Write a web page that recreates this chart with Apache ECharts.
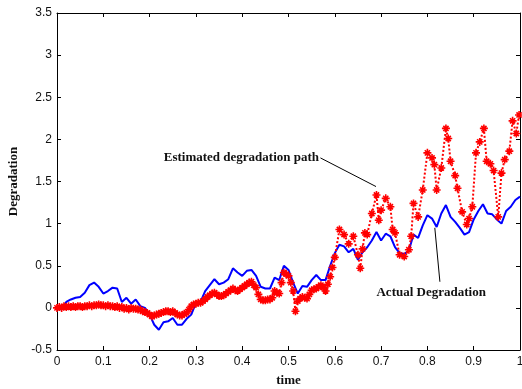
<!DOCTYPE html>
<html>
<head>
<meta charset="utf-8">
<script src="https://cdn.jsdelivr.net/npm/echarts@6/dist/echarts.min.js"></script>
<style>html,body{margin:0;padding:0;background:#fff}#c{width:522px;height:389px}</style>
</head>
<body>
<div id="c"></div>
<script>
// Actual degradation (blue), sampled every 0.01 from 0 to 1
var actualValues = [
  0.0, -0.02, 0.07, 0.1, 0.12, 0.13, 0.18, 0.27, 0.3, 0.25,
  0.17, 0.2, 0.24, 0.23, 0.07, 0.12, 0.05, 0.1, 0.02, 0.0,
  -0.08, -0.2, -0.26, -0.17, -0.16, -0.12, -0.2, -0.2, -0.13, -0.08,
  0.06, 0.07, 0.2, 0.27, 0.34, 0.28, 0.3, 0.34, 0.47, 0.42,
  0.38, 0.44, 0.45, 0.38, 0.25, 0.23, 0.23, 0.36, 0.33, 0.5,
  0.45, 0.3, 0.17, 0.26, 0.25, 0.33, 0.39, 0.33, 0.33, 0.5,
  0.65, 0.75, 0.73, 0.66, 0.7, 0.57, 0.66, 0.72, 0.8, 0.9,
  0.8, 0.88, 0.85, 0.72, 0.65, 0.64, 0.68, 0.87, 0.83, 0.98,
  1.1, 1.06, 0.96, 1.12, 1.22, 1.08, 1.02, 0.95, 0.87, 0.9,
  1.05, 1.15, 1.23, 1.12, 1.11, 1.05, 1.0, 1.15, 1.2, 1.28, 1.32
];
var actualStep = 0.01;

// Estimated degradation path (red)
var estTime = [
  0.000,0.005,0.010,0.015,0.020,0.025,0.030,0.035,0.040,0.045,
  0.050,0.055,0.060,0.065,0.070,0.075,0.080,0.085,0.090,0.095,
  0.100,0.105,0.110,0.115,0.120,0.125,0.130,0.135,0.140,0.145,
  0.150,0.155,0.160,0.165,0.170,0.175,0.180,0.185,0.190,0.195,
  0.200,0.205,0.210,0.215,0.220,0.225,0.230,0.235,0.240,0.245,
  0.250,0.255,0.260,0.265,0.270,0.275,0.280,0.285,0.290,0.295,
  0.300,0.305,0.310,0.315,0.320,0.325,0.330,0.335,0.340,0.345,
  0.350,0.355,0.360,0.365,0.370,0.375,0.380,0.385,0.390,0.395,
  0.400,0.405,0.410,0.415,0.420,0.425,0.430,0.435,0.440,0.445,
  0.450,0.455,0.460,0.465,0.470,0.475,0.480,0.485,0.490,0.495,
  0.500,0.505,0.510,0.515,0.520,0.525,0.530,0.535,0.540,0.545,
  0.550,0.555,0.560,0.565,0.570,0.575,0.580,0.585,0.590,0.595,
  0.600,0.610,0.620,0.630,0.640,0.650,0.655,0.660,0.665,0.670,
  0.680,0.690,0.695,0.700,0.710,0.720,0.725,0.730,0.740,0.750,
  0.760,0.765,0.770,0.780,0.790,0.800,0.810,0.815,0.820,0.830,
  0.840,0.845,0.850,0.860,0.865,0.875,0.885,0.890,0.897,0.905,
  0.913,0.922,0.928,0.936,0.943,0.953,0.960,0.967,0.977,0.984,
  0.992,0.998
];
var estValues = [
  0.0, 0.01, 0.0, 0.02, 0.01, 0.02, 0.01, 0.02, 0.01, 0.02,
  0.02, 0.01, 0.02, 0.02, 0.03, 0.02, 0.03, 0.03, 0.04, 0.03,
  0.03, 0.02, 0.03, 0.02, 0.02, 0.01, 0.02, 0.0, 0.01, -0.01,
  0.0, -0.02, 0.0, -0.01, -0.01, -0.02, -0.02, -0.04, -0.05, -0.06,
  -0.08, -0.1, -0.09, -0.08, -0.07, -0.06, -0.05, -0.04, -0.04, -0.05,
  -0.04, -0.06, -0.08, -0.09, -0.09, -0.07, -0.06, -0.02, 0.02, 0.04,
  0.05, 0.06, 0.06, 0.08, 0.1, 0.13, 0.15, 0.17, 0.18, 0.16,
  0.14, 0.14, 0.15, 0.17, 0.19, 0.21, 0.23, 0.21, 0.2, 0.22,
  0.24, 0.26, 0.28, 0.3, 0.31, 0.27, 0.24, 0.16, 0.1, 0.09,
  0.09, 0.1, 0.1, 0.12, 0.2, 0.18, 0.17, 0.3, 0.42, 0.4,
  0.38, 0.3, 0.2, -0.04, 0.08, 0.11, 0.13, 0.12, 0.11, 0.16,
  0.21, 0.22, 0.23, 0.25, 0.27, 0.24, 0.2, 0.28, 0.37, 0.48,
  0.6, 0.93, 0.87, 0.76, 0.85, 0.63, 0.47, 0.7, 0.89, 0.87,
  1.12, 1.34, 1.04, 1.16, 1.3, 1.2, 0.93, 0.89, 0.63, 0.61,
  0.69, 0.85, 1.24, 1.08, 1.4, 1.84, 1.78, 1.7, 1.4, 1.66,
  2.13, 2.01, 1.74, 1.57, 1.42, 1.14, 0.99, 1.06, 1.2, 1.84,
  1.97, 2.13, 1.74, 1.71, 1.63, 1.08, 1.6, 1.76, 1.86, 2.22,
  2.07, 2.29
];

// Axis ticks
var xTicks = { min: 0, max: 1, interval: 0.1 };
var yTicks = { min: -0.5, max: 3.5, interval: 0.5 };

// Annotations (data coordinates)
var estLabel = { text: 'Estimated degradation path', at: [0.566, 1.78], tail: [0.569, 1.78], head: [0.689, 1.44] };
var actLabel = { text: 'Actual Degradation', at: [0.69, 0.18], tail: [0.827, 0.31], head: [0.816, 0.95] };

var actualData = actualValues.map(function (v, i) { return [+(i * actualStep).toFixed(2), v]; });
var estData = estTime.map(function (t, i) { return [t, estValues[i]]; });

var serif = '"Liberation Serif","DejaVu Serif",serif';
var sans = '"Liberation Sans",Arial,sans-serif';

var chart = echarts.init(document.getElementById('c'), null, { renderer: 'canvas' });

function axisCommon(showLabel) {
  return {
    axisLine: { show: true, onZero: false, lineStyle: { color: '#000', width: 1 } },
    axisTick: { show: true, inside: true, length: 4, lineStyle: { color: '#000', width: 1 } },
    axisLabel: { show: showLabel, color: '#111', fontFamily: sans, fontSize: 12, hideOverlap: false },
    splitLine: { show: false }
  };
}

var xMain = Object.assign(axisCommon(true), {
  type: 'value', min: xTicks.min, max: xTicks.max, interval: xTicks.interval, position: 'bottom',
  name: 'time', nameLocation: 'middle', nameGap: 24,
  nameTextStyle: { fontFamily: serif, fontWeight: 'bold', fontSize: 13, color: '#111' }
});
xMain.axisLabel.margin = 6;
var xTop = Object.assign(axisCommon(false), {
  type: 'value', min: xTicks.min, max: xTicks.max, interval: xTicks.interval, position: 'top'
});
var yMain = Object.assign(axisCommon(true), {
  type: 'value', min: yTicks.min, max: yTicks.max, interval: yTicks.interval, position: 'left',
  name: 'Degradation', nameLocation: 'middle', nameGap: 36, nameRotate: 90,
  nameTextStyle: { fontFamily: serif, fontWeight: 'bold', fontSize: 13, color: '#111' }
});
yMain.axisLabel.margin = 5;
var yRight = Object.assign(axisCommon(false), {
  type: 'value', min: yTicks.min, max: yTicks.max, interval: yTicks.interval, position: 'right'
});

var annFont = { fontFamily: serif, fontWeight: 'bold', fontSize: 13, color: '#111' };

chart.setOption({
  animation: false,
  backgroundColor: '#fff',
  grid: { left: 57, top: 13, right: 2, bottom: 39, containLabel: false, outerBoundsMode: 'none' },
  xAxis: [xMain, xTop],
  yAxis: [yMain, yRight],
  series: [
    {
      name: 'Actual Degradation', type: 'line', data: actualData,
      xAxisIndex: 0, yAxisIndex: 0,
      showSymbol: false, lineStyle: { color: '#0000ff', width: 2 }, itemStyle: { color: '#0000ff' },
      z: 2,
      markLine: {
        silent: true, animation: false,
        symbol: ['none', 'arrow'], symbolSize: [0, 15],
        lineStyle: { color: '#000', width: 1, type: 'solid' },
        label: { show: false },
        data: [
          [{ coord: estLabel.tail }, { coord: estLabel.head }],
          [{ coord: actLabel.tail }, { coord: actLabel.head }]
        ]
      },
      markPoint: {
        silent: true, animation: false, symbol: 'circle', symbolSize: 0,
        itemStyle: { color: 'rgba(0,0,0,0)' },
        data: [
          { coord: estLabel.at, label: Object.assign({ show: true, position: 'left', distance: 0, formatter: estLabel.text }, annFont) },
          { coord: actLabel.at, label: Object.assign({ show: true, position: 'right', distance: 0, formatter: actLabel.text }, annFont) }
        ]
      }
    },
    {
      name: 'Estimated degradation path', type: 'line', data: estData,
      xAxisIndex: 0, yAxisIndex: 0,
      showSymbol: true, showAllSymbol: true,
      symbol: 'path://M0,-4L0,4M-4,0L4,0M-2.6,-2.6L2.6,2.6M-2.6,2.6L2.6,-2.6',
      symbolSize: 8,
      itemStyle: { color: '#ff0000', borderColor: '#ff0000', borderWidth: 1.6 },
      lineStyle: { color: '#ff0000', width: 2, type: 'dotted' },
      z: 3
    }
  ]
});
</script>
</body>
</html>
